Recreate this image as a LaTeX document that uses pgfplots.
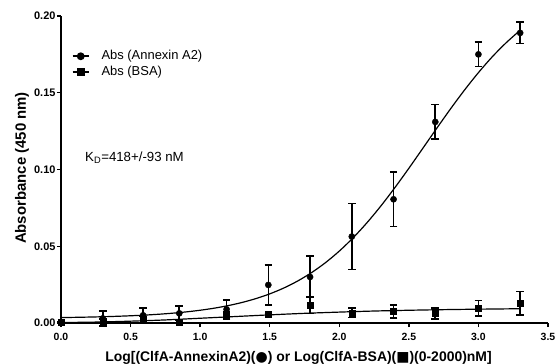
\documentclass[border=0pt]{standalone}
\usepackage{pgfplots}
\pgfplotsset{compat=1.18}
\usepackage{fontspec}
\setmainfont{Liberation Sans}
\newfontfamily\sym{DejaVu Sans}
\begin{document}
\begin{tikzpicture}
\useasboundingbox (-61bp,-41bp) rectangle (499bp,323bp);
\begin{axis}[
  scale only axis,
  width=487bp, height=307bp,
  xmin=0, xmax=3.5, ymin=0, ymax=0.2,
  axis x line=bottom, axis y line=left,
  axis line style={-, line width=1.6pt},
  tick align=outside,
  major tick length=4bp,
  tick style={line width=1.4pt, black},
  xtick={0,0.5,...,3.5},
  ytick={0,0.05,0.1,0.15,0.2},
  minor tick num=0,
  /pgf/number format/assume math mode=true,
  xticklabel style={font=\fontsize{10.5}{12}\selectfont\bfseries, yshift=-2.5bp,
    /pgf/number format/.cd, fixed, fixed zerofill, precision=1},
  yticklabel style={font=\fontsize{11}{12}\selectfont\bfseries, xshift=2bp,
    /pgf/number format/.cd, fixed, fixed zerofill, precision=2},
  scaled y ticks=false,
  xlabel={Log[(ClfA-AnnexinA2)({\sym ●}) or Log(ClfA-BSA)({\sym ■})(0-2000)nM]},
  ylabel={Absorbance (450 nm)},
  xlabel style={font=\fontsize{14}{16}\selectfont\bfseries,
    at={(axis description cs:0.4877,0)}, anchor=base, yshift=-38bp},
  ylabel style={font=\fontsize{15}{17}\selectfont\bfseries,
    at={(axis description cs:-0.0719,0.5049)}, anchor=base},
  clip=false,
  legend style={at={(0.022,0.889)}, anchor=north west, draw=none, fill=none,
    inner sep=0pt, font=\fontsize{13}{15}\selectfont, row sep=4bp,
    nodes={inner sep=0pt, text height=9.3bp, text depth=2.7bp}},
  /tikz/every odd column/.append style={column sep=12bp},
  legend cell align=left,
  legend image code/.code={\draw[mark repeat=2, mark phase=2, #1] plot coordinates {(0bp,0bp)(8bp,0bp)(16bp,0bp)};},
  legend image post style={sharp plot, line width=1.6pt},
]
% fitted curves
\addplot[black, line width=1.2pt, smooth, forget plot] coordinates {
(0.0,0.00354)(0.1,0.00368)(0.2,0.00386)(0.3,0.00408)(0.4,0.00436)(0.5,0.00471)
(0.6,0.00514)(0.7,0.00569)(0.8,0.00638)(0.9,0.00724)(1.0,0.00831)(1.1,0.00964)
(1.2,0.01130)(1.3,0.01335)(1.4,0.01588)(1.5,0.01897)(1.6,0.02274)(1.7,0.02731)
(1.8,0.03278)(1.9,0.03926)(2.0,0.04684)(2.1,0.05556)(2.2,0.06543)(2.3,0.07637)
(2.4,0.08824)(2.5,0.10079)(2.6,0.11376)(2.7,0.12679)(2.8,0.13957)(2.9,0.15176)
(3.0,0.16311)(3.1,0.17348)(3.2,0.18264)(3.3,0.19070)};
\addplot[black, line width=1.2pt, smooth, forget plot] coordinates {
(0.0,0.0003)(0.25,0.0006)(0.5,0.0012)(0.75,0.0020)(1.0,0.0031)(1.25,0.0042)
(1.5,0.0053)(1.75,0.0063)(2.0,0.0071)(2.25,0.0078)(2.5,0.0083)(2.75,0.0087)
(3.0,0.0090)(3.3,0.0093)};
% data
\addplot[black, only marks, mark=*, mark size=3.1bp,
  error bars/.cd, y dir=both, y explicit,
  error bar style={line width=1.6pt},
  error mark options={rotate=90, mark size=3.8bp, line width=1.6pt}]
coordinates {
(0.0,0.0005) +- (0,0)
(0.30,0.0030) +- (0,0.0050)
(0.59,0.0050) +- (0,0.0046)
(0.85,0.0063) +- (0,0.0047)
(1.19,0.0089) +- (0,0.0061)
(1.49,0.0248) +- (0,0.0130)
(1.79,0.0300) +- (0,0.0135)
(2.09,0.0563) +- (0,0.0215)
(2.39,0.0806) +- (0,0.0177)
(2.69,0.1310) +- (0,0.0113)
(3.00,0.1750) +- (0,0.0080)
(3.30,0.1890) +- (0,0.0070)};
\addlegendentry{Abs (Annexin A2)}
\addplot[black, only marks, mark=square*, mark size=3bp,
  error bars/.cd, y dir=both, y explicit,
  error bar style={line width=1.6pt},
  error mark options={rotate=90, mark size=3.8bp, line width=1.6pt}]
coordinates {
(0.0,0.0003) +- (0,0)
(0.30,0.0012) +- (0,0.0015)
(0.59,0.0022) +- (0,0.0020)
(0.85,0.0002) +- (0,0)
(1.19,0.0055) +- (0,0.0020)
(1.49,0.0057) +- (0,0)
(1.79,0.0117) +- (0,0.0055)
(2.09,0.0067) +- (0,0.0030)
(2.39,0.0074) +- (0,0.0043)
(2.69,0.0063) +- (0,0.0035)
(3.00,0.0096) +- (0,0.0050)
(3.30,0.0128) +- (0,0.0076)};
\addlegendentry{Abs (BSA)}
\node[anchor=west, inner sep=0pt, font=\fontsize{13.3}{15}\selectfont] at (axis cs:0.1727,0.1078) {K\textsubscript{D}=418+/-93 nM};
\end{axis}
\end{tikzpicture}
\end{document}
